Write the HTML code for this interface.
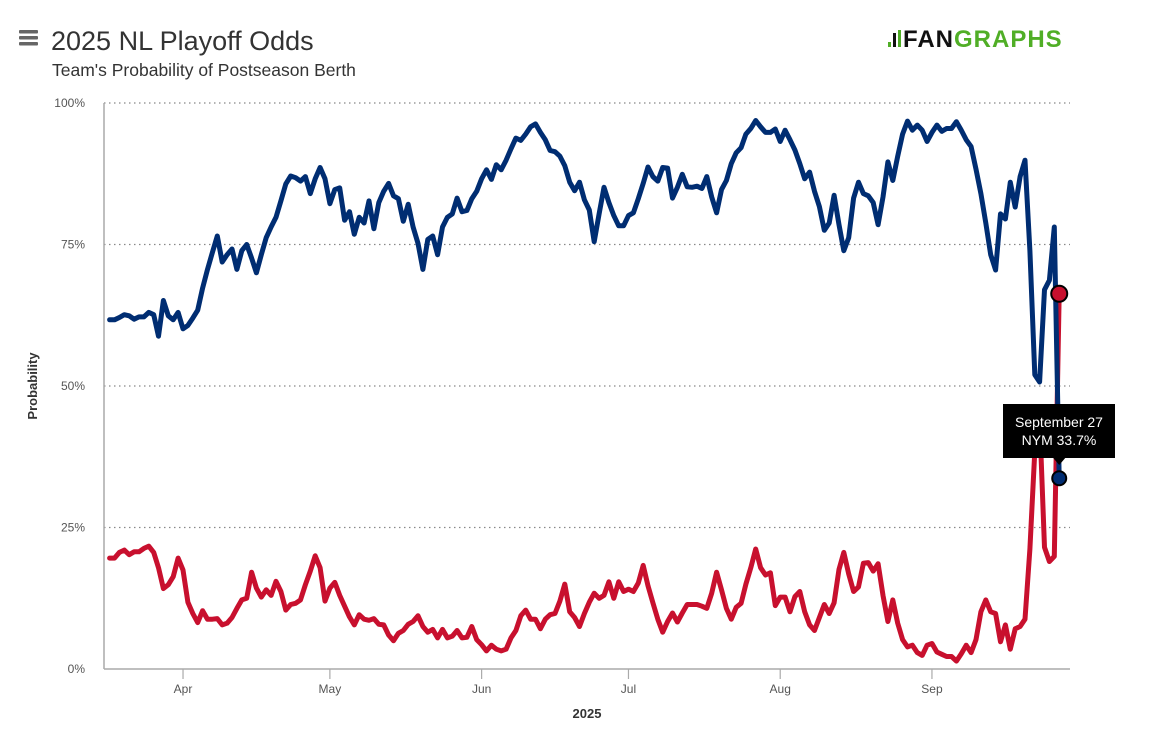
<!DOCTYPE html>
<html><head><meta charset="utf-8"><style>
html,body{margin:0;padding:0;background:#fff;}
svg{display:block;font-family:"Liberation Sans",sans-serif;}
</style></head><body>
<svg id="chart" width="1151" height="731" viewBox="0 0 1151 731">
  <g fill="#666">
    <rect x="19" y="30" width="19" height="3.5" rx="1"/><rect x="19" y="36" width="19" height="3.5" rx="1"/><rect x="19" y="42" width="19" height="3.5" rx="1"/>
  </g>
  <text x="51" y="50" font-size="27" fill="#333">2025 NL Playoff Odds</text>
  <text x="52" y="76" font-size="17.5" fill="#333">Team's Probability of Postseason Berth</text>
  <g>
    <rect x="888" y="42" width="3" height="5" fill="#50ae26"/>
    <rect x="893" y="33" width="3" height="14" fill="#111"/>
    <rect x="898" y="30" width="3" height="17" fill="#50ae26"/>
    <text x="903" y="47" font-size="24" font-weight="bold" letter-spacing="1"><tspan fill="#111">FAN</tspan><tspan fill="#50ae26">GRAPHS</tspan></text>
  </g>
  <g id="grid"></g>
  <g id="axes"></g>
  <g id="series"></g>
  <text transform="translate(37,386) rotate(-90)" text-anchor="middle" font-size="13" font-weight="bold" fill="#333">Probability</text>
  <text x="587" y="718" text-anchor="middle" font-size="13" font-weight="bold" fill="#333">2025</text>
  <g id="tooltip"></g>
</svg>
<script>
const yTicks = [0, 25, 50, 75, 100];
const monthLabels = ["Apr", "May", "Jun", "Jul", "Aug", "Sep"];
const monthStartDays = [15, 45, 76, 106, 137, 168];
const startDate = "2025-03-17";
const teamNames = ["NYM", "CIN"];
const nymValues = [61.7,61.7,62.1,62.6,62.4,61.8,62.2,62.2,63.0,62.6,58.8,65.1,62.4,61.7,63.0,60.1,60.7,62.0,63.4,67.3,70.6,73.6,76.5,71.9,73.2,74.2,70.6,73.9,75.0,72.6,70.0,73.2,76.2,78.1,79.8,82.7,85.7,87.1,86.8,86.2,87.0,84.0,86.6,88.6,86.6,82.2,84.7,85.0,79.3,80.8,76.8,79.8,78.8,82.7,77.8,82.4,84.4,85.8,83.6,83.1,79.1,82.1,78.1,75.2,70.6,75.9,76.5,73.2,78.1,79.8,80.4,83.2,80.8,81.0,83.1,84.4,86.6,88.2,86.5,89.1,
88.2,89.9,91.9,93.8,93.4,94.5,95.8,96.3,94.8,93.5,91.6,91.4,90.6,88.9,86.0,84.5,86.0,82.9,81.1,75.5,80.4,85.1,82.4,80.1,78.3,78.3,80.1,80.6,83.1,85.8,88.7,87.0,86.2,88.6,88.5,83.2,85.1,87.4,85.2,85.1,85.3,84.9,87.0,83.4,80.6,84.7,86.3,89.3,91.2,92.1,94.5,95.5,96.9,95.8,94.8,94.8,95.4,93.2,95.2,93.5,91.7,89.3,86.6,87.8,84.4,81.7,77.5,78.8,83.7,78.5,73.9,76.2,83.2,86.0,84.0,83.6,82.4,78.5,
83.4,89.6,86.3,90.6,94.5,96.8,95.2,96.1,95.2,93.2,94.8,96.1,95.0,95.5,95.5,96.7,95.2,93.5,92.3,88.3,84.0,78.8,73.2,70.5,80.4,79.5,86.0,81.6,87.0,89.9,73.9,52.0,50.7,67.0,68.7,78.1,33.7];
const cinValues = [19.6,19.6,20.6,21.0,20.2,20.7,20.7,21.3,21.7,20.6,17.9,14.2,14.9,16.3,19.6,17.5,11.8,9.8,8.2,10.3,8.8,8.8,8.9,7.8,8.1,9.1,10.7,12.2,12.5,17.1,14.3,12.7,14.0,13.0,15.5,13.7,10.4,11.4,11.6,12.2,14.9,17.3,20.0,17.9,12.0,14.3,15.3,13.0,11.1,9.2,7.8,9.6,8.8,8.6,8.9,7.9,7.8,6.0,5.0,6.3,6.8,7.9,8.4,9.4,7.5,6.5,7.0,5.5,7.0,5.5,5.8,6.8,5.5,5.6,7.5,5.2,4.3,3.2,4.2,3.5,
3.2,3.5,5.5,6.8,9.4,10.4,8.8,8.8,7.1,8.8,9.6,9.8,12.0,15.0,10.1,9.1,7.5,9.8,11.8,13.4,12.5,13.0,15.4,12.5,15.4,13.7,14.1,13.7,15.2,18.3,14.7,11.7,8.8,6.5,8.4,9.9,8.3,9.9,11.4,11.4,11.4,11.1,10.7,13.4,17.1,14.0,10.7,8.8,10.9,11.6,15.0,17.9,21.2,17.9,16.6,17.0,11.2,12.7,12.7,10.1,12.8,13.7,10.1,7.8,6.8,9.1,11.4,9.8,11.7,17.6,20.6,16.8,13.7,14.5,18.7,18.8,17.3,18.6,
13.0,8.4,12.2,8.1,5.2,3.9,4.2,2.9,2.4,4.2,4.5,3.0,2.6,2.2,2.2,1.4,2.7,4.2,2.9,5.2,10.1,12.2,10.1,9.8,4.8,7.8,3.5,7.1,7.5,8.8,21.2,38.5,44.4,21.5,19.0,19.9,66.3];
const tooltipLines = ["September 27", "NYM 33.7%"];

const NS = "http://www.w3.org/2000/svg";
const plot = {left: 104, right: 1070, top: 103, bottom: 669};
function xScale(day) { return 109.6 + day * 4.895; }
function yScale(v) { return plot.bottom - (v / 100) * (plot.bottom - plot.top); }
function mk(tag, attrs, parent) {
  const el = document.createElementNS(NS, tag);
  for (const k in attrs) el.setAttribute(k, attrs[k]);
  parent.appendChild(el);
  return el;
}
const grid = document.getElementById("grid");
const axes = document.getElementById("axes");
const series = document.getElementById("series");
const tip = document.getElementById("tooltip");

yTicks.forEach(t => {
  const y = yScale(t);
  if (t > 0) {
    const gl = mk("line", {x1: plot.left, x2: plot.right, y1: y, y2: y, stroke: "#888", "stroke-width": 1.2, "stroke-dasharray": "1.5,3.5"}, grid);
    
    
  }
  const lb = mk("text", {x: 85, y: y + 4, "text-anchor": "end", "font-size": 12, fill: "#555"}, axes);
  lb.textContent = t + "%";
  
  
});
const yAxis = mk("line", {x1: plot.left, x2: plot.left, y1: plot.top, y2: plot.bottom, stroke: "#aaa", "stroke-width": 1.5}, axes);


const xAxis = mk("line", {x1: plot.left, x2: plot.right, y1: plot.bottom, y2: plot.bottom, stroke: "#aaa", "stroke-width": 1.5}, axes);


monthLabels.forEach((m, i) => {
  const x = xScale(monthStartDays[i]);
  const tk = mk("line", {x1: x, x2: x, y1: plot.bottom, y2: plot.bottom + 10, stroke: "#aaa", "stroke-width": 1.2}, axes);
  
  
  const lb = mk("text", {x: x, y: 693, "text-anchor": "middle", "font-size": 12, fill: "#555"}, axes);
  lb.textContent = m;
  
  
});

function drawSeries(vals, color, name) {
  const d = vals.map((v, i) => (i ? "L" : "M") + xScale(i).toFixed(1) + "," + yScale(v).toFixed(1)).join("");
  const p = mk("path", {d: d, fill: "none", stroke: color, "stroke-width": 5, "stroke-linejoin": "round", "stroke-linecap": "round"}, series);
  
  
}
drawSeries(cinValues, "#c8102e", "cin");
drawSeries(nymValues, "#002d72", "nym");
const last = nymValues.length - 1;
const cEnd = mk("circle", {cx: xScale(last), cy: yScale(cinValues[last]), r: 8, fill: "#c8102e", stroke: "#000", "stroke-width": 2}, series);


const nEnd = mk("circle", {cx: xScale(last), cy: yScale(nymValues[last]), r: 7, fill: "#002d72", stroke: "#000", "stroke-width": 2}, series);



const tx = xScale(last), ty = yScale(nymValues[last]);
const bx = 1003, by = 404, bw = 112, bh = 54;
const box = mk("path", {d: `M${bx},${by}h${bw}v${bh}h${-(bx + bw - tx - 6)}l-6,7l-6,-7H${bx}Z`, fill: "#000"}, tip);


tooltipLines.forEach((t, i) => {
  const el = mk("text", {x: bx + bw / 2, y: by + 23 + i * 18, "text-anchor": "middle", "font-size": 14, fill: "#fff"}, tip);
  el.textContent = t;
  
  
});
</script>
</body></html>
